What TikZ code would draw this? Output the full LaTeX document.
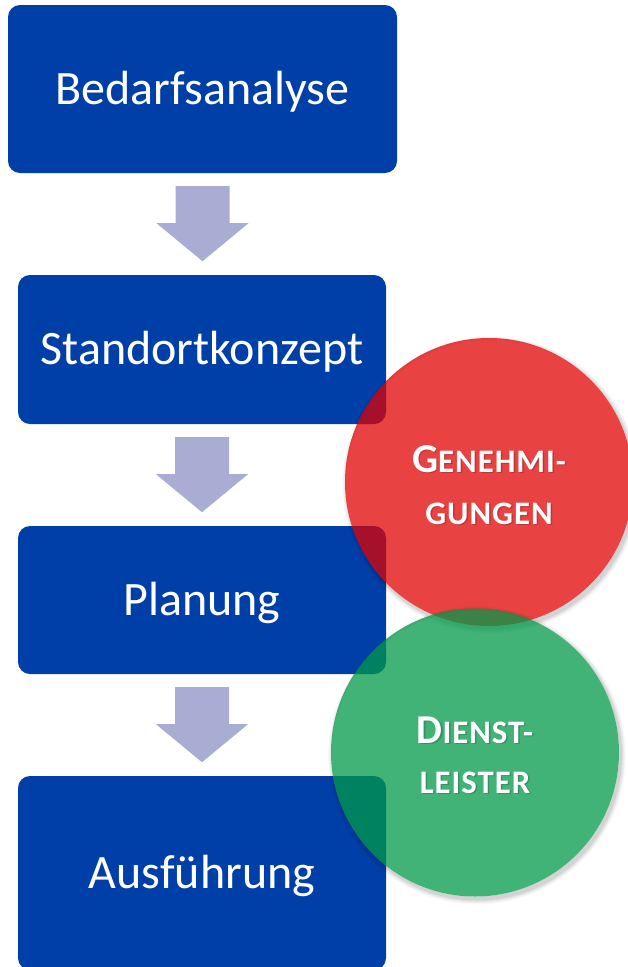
\documentclass[tikz,border=0pt]{standalone}
\usepackage{fontspec}
\setmainfont{Carlito}
\definecolor{boxblue}{RGB}{0,62,168}
\definecolor{arrowc}{RGB}{169,173,212}
\definecolor{cred}{RGB}{224,0,0}
\definecolor{cgreen}{RGB}{0,153,72}
\newcommand{\bubline}[2]{\addfontfeature{LetterSpace=3}{\fontsize{41}{42}\selectfont #1}{\fontsize{32.8}{34}\selectfont #2}}
\begin{document}
\begin{tikzpicture}[x=1pt,y=-1pt,
  stepbox/.style={fill=boxblue, rounded corners=12pt, inner sep=0pt, text=white,
    font=\fontsize{48}{58}\selectfont, text height=30.3pt, text depth=0pt},
  blockarrow/.style={fill=arrowc},
  bubble/.style={circle, minimum size=288pt, inner sep=0pt, fill opacity=0.74},
  bubtext/.style={anchor=base, text=white, font=\bfseries, inner sep=0pt},
  bubshade/.style={anchor=base, text=black, text opacity=0.18, font=\bfseries, inner sep=0pt}
]
\useasboundingbox (0,0) rectangle (628,967);
\fill[white] (0,0) rectangle (628,967);

% process boxes
\node[stepbox, minimum width=389pt, minimum height=168pt] (b1) at (202.5,89) {Bedarfsanalyse};
\node[stepbox, minimum width=368pt, minimum height=149pt] (b2) at (202,349.5) {Standortkonzept};
\node[stepbox, minimum width=368pt, minimum height=148pt] (b3) at (202,600) {Planung};
\node[stepbox, minimum width=368pt, minimum height=194pt] (b4) at (202,873) {Ausführung};

% block arrows
\foreach \b in {b1,b2,b3}{
  \fill[blockarrow] ([yshift=-13pt]\b.south) ++(-27,0) -- ++(54,0) -- ++(0,37) -- ++(19,0)
    -- ++(-46,38) -- ++(-46,-38) -- ++(19,0) -- cycle;
}

% red bubble
\coordinate (rc) at (489,482);
\foreach \k/\o in {1/0.05,2/0.04,3/0.03,4/0.03,5/0.02}{
  \fill[black, opacity=\o, even odd rule] ([shift={(2,3)}]rc) circle ({144+\k}) (rc) circle (144);
}
\node[bubble, fill=cred] (red) at (rc) {};
\node[bubshade] (rsh1) at (490.5,473.5) {\bubline{G}{ENEHMI-}};
\node[bubshade] (rsh2) at (490.5,525.5) {\bubline{}{GUNGEN}};
\node[bubtext] (rt1) at (489,472) {\bubline{G}{ENEHMI-}};
\node[bubtext] (rt2) at (489,524) {\bubline{}{GUNGEN}};

% green bubble
\coordinate (gc) at (475,752.5);
\foreach \k/\o in {1/0.05,2/0.04,3/0.03,4/0.03,5/0.02}{
  \fill[black, opacity=\o, even odd rule] ([shift={(2,3)}]gc) circle ({144+\k}) (gc) circle (144);
}
\node[bubble, fill=cgreen] (green) at (gc) {};
\node[bubshade] (gsh1) at (476.5,744.5) {\bubline{D}{IENST-}};
\node[bubshade] (gsh2) at (476.5,794.5) {\bubline{}{LEISTER}};
\node[bubtext] (gt1) at (475,743) {\bubline{D}{IENST-}};
\node[bubtext] (gt2) at (475,793) {\bubline{}{LEISTER}};
\end{tikzpicture}
\end{document}
